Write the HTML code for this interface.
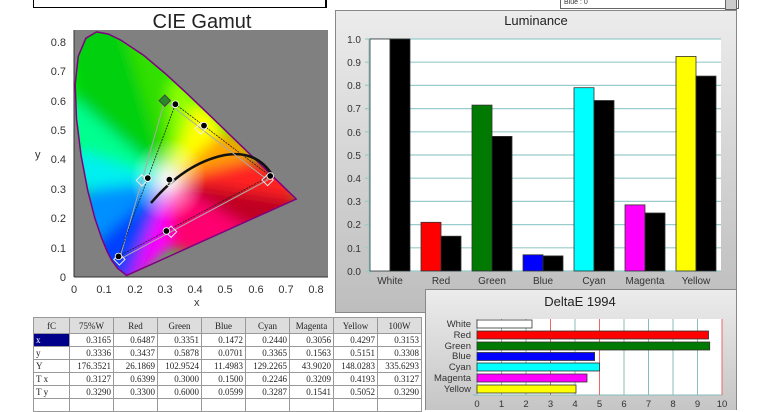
<!DOCTYPE html>
<html><head><style>
body{margin:0;width:760px;height:410px;overflow:hidden;background:#fff;font-family:"Liberation Sans",sans-serif;position:relative}
.abs{position:absolute}
table{border-collapse:collapse;font-family:"Liberation Serif",serif;font-size:9px;color:#222}
td{border:1px solid #999;height:12px;padding:0 2px;text-align:right;width:39px}
tr.h td{background:#ddd;text-align:center;height:15px}
td.f{text-align:left;background:#fff;width:31px}
</style></head><body>
<div class="abs" style="left:33px;top:-2px;width:291px;height:9px;border:1px solid #000;border-top:none"></div>
<div class="abs" style="left:326px;top:-2px;width:1px;height:10px;background:#000"></div>
<div class="abs" style="left:560px;top:-2px;width:174px;height:9px;border:1px solid #666;font-size:7px;line-height:7px;padding-left:3px;color:#333">Blue : 0</div>
<div class="abs" style="left:725px;top:-2px;width:10px;height:10px;background:#ccc;border:1px solid #666"></div>

<svg class="abs" style="left:0;top:0" width="335" height="310">
<defs>
<clipPath id="loc"><path id="lp" d="M126.7,275.5 L117.6,268.3 L111.5,260.0 L107.2,251.5 L101.6,238.0 L94.8,218.0 L87.7,190.3 L81.1,155.7 L76.5,118.7 L75.2,84.5 L78.2,56.5 L85.8,38.3 L96.5,31.9 L108.5,34.1 L120.8,40.1 L143.5,55.2 L165.2,73.5 L186.9,93.4 L208.3,113.9 L229.0,133.9 L248.0,152.3 L263.7,167.5 L283.2,186.4 L296.2,199.0 Z"/></clipPath>
<filter id="bl"><feGaussianBlur stdDeviation="7"/></filter>
<radialGradient id="wg" cx="0.5" cy="0.5" r="0.5"><stop offset="0" stop-color="#fff" stop-opacity="0.95"/><stop offset="1" stop-color="#fff" stop-opacity="0"/></radialGradient>
</defs>
<text x="202" y="28" text-anchor="middle" font-size="20" fill="#222">CIE Gamut</text>
<rect x="74" y="30" width="254" height="247" fill="#808080"/>
<g clip-path="url(#loc)">
<rect x="60" y="20" width="250" height="270" fill="#0f0"/>
<g filter="url(#bl)">
<polygon points="169,180 40,320 110,310 126,276" fill="#3010ff"/>
<polygon points="169,180 110,310 70,250 101,238" fill="#0040ff"/>
<polygon points="169,180 101,238 50,230 88,190" fill="#0090ff"/>
<polygon points="169,180 88,190 40,180 78,150" fill="#00f0f0"/>
<polygon points="169,180 78,150 40,100 76,100" fill="#00ff90"/>
<polygon points="169,180 76,100 60,10 120,20" fill="#00d010"/>
<polygon points="169,180 120,20 165,50 170,80" fill="#30e000"/>
<polygon points="169,180 170,80 190,80 195,100" fill="#90ff00"/>
<polygon points="169,180 195,100 215,110 225,130" fill="#ffff00"/>
<polygon points="169,180 225,130 245,140 255,158" fill="#ffa000"/>
<polygon points="169,180 255,158 290,170 300,200" fill="#ff2020"/>
<polygon points="169,180 300,200 300,215 260,235" fill="#c00020"/>
<polygon points="169,180 260,235 210,260 170,250" fill="#ff0070"/>
<polygon points="169,180 170,250 150,270 130,290" fill="#ff00ff"/>
<polygon points="169,180 130,290 40,320 126,276" fill="#8000ff"/>
</g>
<ellipse cx="168" cy="180" rx="38" ry="42" fill="url(#wg)"/>
</g>
<use href="#lp" fill="none" stroke="#800080" stroke-width="1.5"/>
<path d="M151,203 Q185,163 225,155 Q255,150 271,173" fill="none" stroke="#111" stroke-width="2.5"/>
<polygon points="267.6,180 164.8,100.6 119.4,259.4" fill="none" stroke="#aaa" stroke-width="1"/>
<polygon points="270.2,176 175.4,104.2 118.5,256.4" fill="none" stroke="#222" stroke-width="0.8" stroke-dasharray="2,1"/>
<g fill="none" stroke="#eee" stroke-width="1">
<rect x="-4" y="-4" width="8" height="8" transform="translate(267.6,180) rotate(45)"/>
<rect x="-4" y="-4" width="8" height="8" transform="translate(119.4,259.4) rotate(45)"/>
<rect x="-4" y="-4" width="8" height="8" transform="translate(141.9,180.4) rotate(45)"/>
<rect x="-4" y="-4" width="8" height="8" transform="translate(171.1,231.7) rotate(45)"/>
<rect x="-4" y="-4" width="8" height="8" transform="translate(200.8,128.5) rotate(45)"/>
<rect x="-4" y="-4" width="8" height="8" transform="translate(168.6,180.3) rotate(45)"/>
</g>
<rect x="-4" y="-4" width="8" height="8" transform="translate(164.8,100.6) rotate(45)" fill="#2a8a2a" stroke="#444"/>
<g fill="#000" stroke="#fff" stroke-width="0.8">
<circle cx="270.2" cy="176" r="3.3"/><circle cx="175.4" cy="104.2" r="3.3"/><circle cx="118.5" cy="256.4" r="3.3"/>
<circle cx="147.8" cy="178.1" r="3.3"/><circle cx="166.4" cy="231" r="3.3"/><circle cx="204" cy="125.6" r="3.3"/><circle cx="169.4" cy="179.7" r="3.3"/>
</g>
<g stroke="#333" stroke-width="1"><line x1="74" y1="30" x2="74" y2="277"/><line x1="74" y1="277" x2="328" y2="277"/></g>
<g font-size="11" fill="#333" text-anchor="end">
<text x="66" y="281">0</text><text x="66" y="252">0.1</text><text x="66" y="222">0.2</text><text x="66" y="193">0.3</text><text x="66" y="163">0.4</text><text x="66" y="134">0.5</text><text x="66" y="105">0.6</text><text x="66" y="75">0.7</text><text x="66" y="46">0.8</text>
</g>
<g font-size="11" fill="#333" text-anchor="middle">
<text x="74" y="293">0</text><text x="104" y="293">0.1</text><text x="135" y="293">0.2</text><text x="165" y="293">0.3</text><text x="195" y="293">0.4</text><text x="225" y="293">0.5</text><text x="256" y="293">0.6</text><text x="286" y="293">0.7</text><text x="316" y="293">0.8</text>
</g>
<text x="35" y="158" font-size="11" fill="#333">y</text>
<text x="194" y="306" font-size="11" fill="#333">x</text>
</svg>

<svg class="abs" style="left:335px;top:10px" width="403" height="303">
<defs><linearGradient id="pg" x1="0" y1="0" x2="0" y2="1"><stop offset="0" stop-color="#ececec"/><stop offset="1" stop-color="#bdbdbd"/></linearGradient></defs>
<rect x="0.5" y="0.5" width="401" height="302" fill="url(#pg)" stroke="#888"/>
<text x="201" y="15" text-anchor="middle" font-size="13" fill="#222">Luminance</text>
<rect x="34" y="29" width="352" height="232" fill="#fff"/>
<g stroke="#9cc" stroke-width="1.2">
<line x1="30" y1="29" x2="386" y2="29"/><line x1="30" y1="52.2" x2="386" y2="52.2"/><line x1="30" y1="75.4" x2="386" y2="75.4"/><line x1="30" y1="98.6" x2="386" y2="98.6"/><line x1="30" y1="121.8" x2="386" y2="121.8"/><line x1="30" y1="145" x2="386" y2="145"/><line x1="30" y1="168.2" x2="386" y2="168.2"/><line x1="30" y1="191.4" x2="386" y2="191.4"/><line x1="30" y1="214.6" x2="386" y2="214.6"/><line x1="30" y1="237.8" x2="386" y2="237.8"/><line x1="30" y1="261" x2="386" y2="261"/>
<line x1="34" y1="29" x2="34" y2="264"/>
</g>
<g stroke="#333" stroke-width="0.8">
<rect x="35" y="29" width="20" height="232" fill="#fff"/><rect x="55" y="29" width="20" height="232" fill="#000"/>
<rect x="86" y="212.3" width="20" height="48.7" fill="#f00"/><rect x="106" y="226.2" width="20" height="34.8" fill="#000"/>
<rect x="137" y="95.1" width="20" height="165.9" fill="#007a00"/><rect x="157" y="126.4" width="20" height="134.6" fill="#000"/>
<rect x="188" y="244.8" width="20" height="16.2" fill="#00f"/><rect x="208" y="245.9" width="20" height="15.1" fill="#000"/>
<rect x="239" y="77.7" width="20" height="183.3" fill="#0ff"/><rect x="259" y="90.5" width="20" height="170.5" fill="#000"/>
<rect x="290" y="194.9" width="20" height="66.1" fill="#f0f"/><rect x="310" y="203" width="20" height="58" fill="#000"/>
<rect x="341" y="46.4" width="20" height="214.6" fill="#ff0"/><rect x="361" y="66.1" width="20" height="194.9" fill="#000"/>
</g>
<g font-size="10" fill="#333" text-anchor="end">
<text x="26" y="33">1.0</text><text x="26" y="56">0.9</text><text x="26" y="79">0.8</text><text x="26" y="102">0.7</text><text x="26" y="126">0.6</text><text x="26" y="149">0.5</text><text x="26" y="172">0.4</text><text x="26" y="195">0.3</text><text x="26" y="218">0.2</text><text x="26" y="242">0.1</text><text x="26" y="265">0.0</text>
</g>
<g font-size="10" fill="#333" text-anchor="middle">
<text x="55" y="274">White</text><text x="106" y="274">Red</text><text x="157" y="274">Green</text><text x="208" y="274">Blue</text><text x="259" y="274">Cyan</text><text x="310" y="274">Magenta</text><text x="361" y="274">Yellow</text>
</g>
</svg>

<div class="abs" style="left:33px;top:317px">
<table>
<tr class="h"><td class="f" style="background:#ddd">fC</td><td>75%W</td><td>Red</td><td>Green</td><td>Blue</td><td>Cyan</td><td>Magenta</td><td>Yellow</td><td>100W</td></tr>
<tr><td class="f" style="background:#00008b;color:#fff">x</td><td>0.3165</td><td>0.6487</td><td>0.3351</td><td>0.1472</td><td>0.2440</td><td>0.3056</td><td>0.4297</td><td>0.3153</td></tr>
<tr><td class="f">y</td><td>0.3336</td><td>0.3437</td><td>0.5878</td><td>0.0701</td><td>0.3365</td><td>0.1563</td><td>0.5151</td><td>0.3308</td></tr>
<tr><td class="f">Y</td><td>176.3521</td><td>26.1869</td><td>102.9524</td><td>11.4983</td><td>129.2265</td><td>43.9020</td><td>148.0283</td><td>335.6293</td></tr>
<tr><td class="f">T x</td><td>0.3127</td><td>0.6399</td><td>0.3000</td><td>0.1500</td><td>0.2246</td><td>0.3209</td><td>0.4193</td><td>0.3127</td></tr>
<tr><td class="f">T y</td><td>0.3290</td><td>0.3300</td><td>0.6000</td><td>0.0599</td><td>0.3287</td><td>0.1541</td><td>0.5052</td><td>0.3290</td></tr>
<tr><td class="f">&nbsp;</td><td></td><td></td><td></td><td></td><td></td><td></td><td></td><td></td></tr>
</table></div>

<svg class="abs" style="left:425px;top:289px" width="313" height="121">
<defs><linearGradient id="pg2" x1="0" y1="0" x2="0" y2="1"><stop offset="0" stop-color="#ececec"/><stop offset="1" stop-color="#c4c4c4"/></linearGradient></defs>
<rect x="0.5" y="0.5" width="311" height="125" fill="url(#pg2)" stroke="#888"/>
<text x="155" y="17" text-anchor="middle" font-size="13" fill="#222">DeltaE 1994</text>
<rect x="52" y="30" width="245" height="76" fill="#fff"/>
<g stroke="#8bb" stroke-width="1"><line x1="76.5" y1="30" x2="76.5" y2="106"/><line x1="101" y1="30" x2="101" y2="106"/><line x1="150" y1="30" x2="150" y2="106"/><line x1="199" y1="30" x2="199" y2="106"/><line x1="223.5" y1="30" x2="223.5" y2="106"/><line x1="248" y1="30" x2="248" y2="106"/><line x1="272.5" y1="30" x2="272.5" y2="106"/><line x1="52" y1="30" x2="52" y2="106"/><line x1="48" y1="106" x2="297" y2="106"/></g>
<g stroke="#e66" stroke-width="1"><line x1="125.5" y1="30" x2="125.5" y2="106"/><line x1="174.5" y1="30" x2="174.5" y2="106"/><line x1="297" y1="30" x2="297" y2="106"/></g>
<g stroke="#333" stroke-width="0.8">
<rect x="52" y="31" width="55" height="8" fill="#fff"/>
<rect x="52" y="42" width="231.5" height="8" fill="#f00"/>
<rect x="52" y="53" width="232.7" height="8" fill="#007a00"/>
<rect x="52" y="63.5" width="117.6" height="8" fill="#00f"/>
<rect x="52" y="74" width="122.5" height="8" fill="#0ff"/>
<rect x="52" y="85" width="110" height="8" fill="#f0f"/>
<rect x="52" y="96" width="99" height="8" fill="#ff0"/>
</g>
<g font-size="9.5" fill="#333" text-anchor="end">
<text x="46" y="38">White</text><text x="46" y="49">Red</text><text x="46" y="60">Green</text><text x="46" y="70">Blue</text><text x="46" y="81">Cyan</text><text x="46" y="92">Magenta</text><text x="46" y="103">Yellow</text>
</g>
<g font-size="9.5" fill="#333" text-anchor="middle">
<text x="52" y="118">0</text><text x="76.5" y="118">1</text><text x="101" y="118">2</text><text x="125.5" y="118">3</text><text x="150" y="118">4</text><text x="174.5" y="118">5</text><text x="199" y="118">6</text><text x="223.5" y="118">7</text><text x="248" y="118">8</text><text x="272.5" y="118">9</text><text x="297" y="118">10</text>
</g>
</svg>
</body></html>
